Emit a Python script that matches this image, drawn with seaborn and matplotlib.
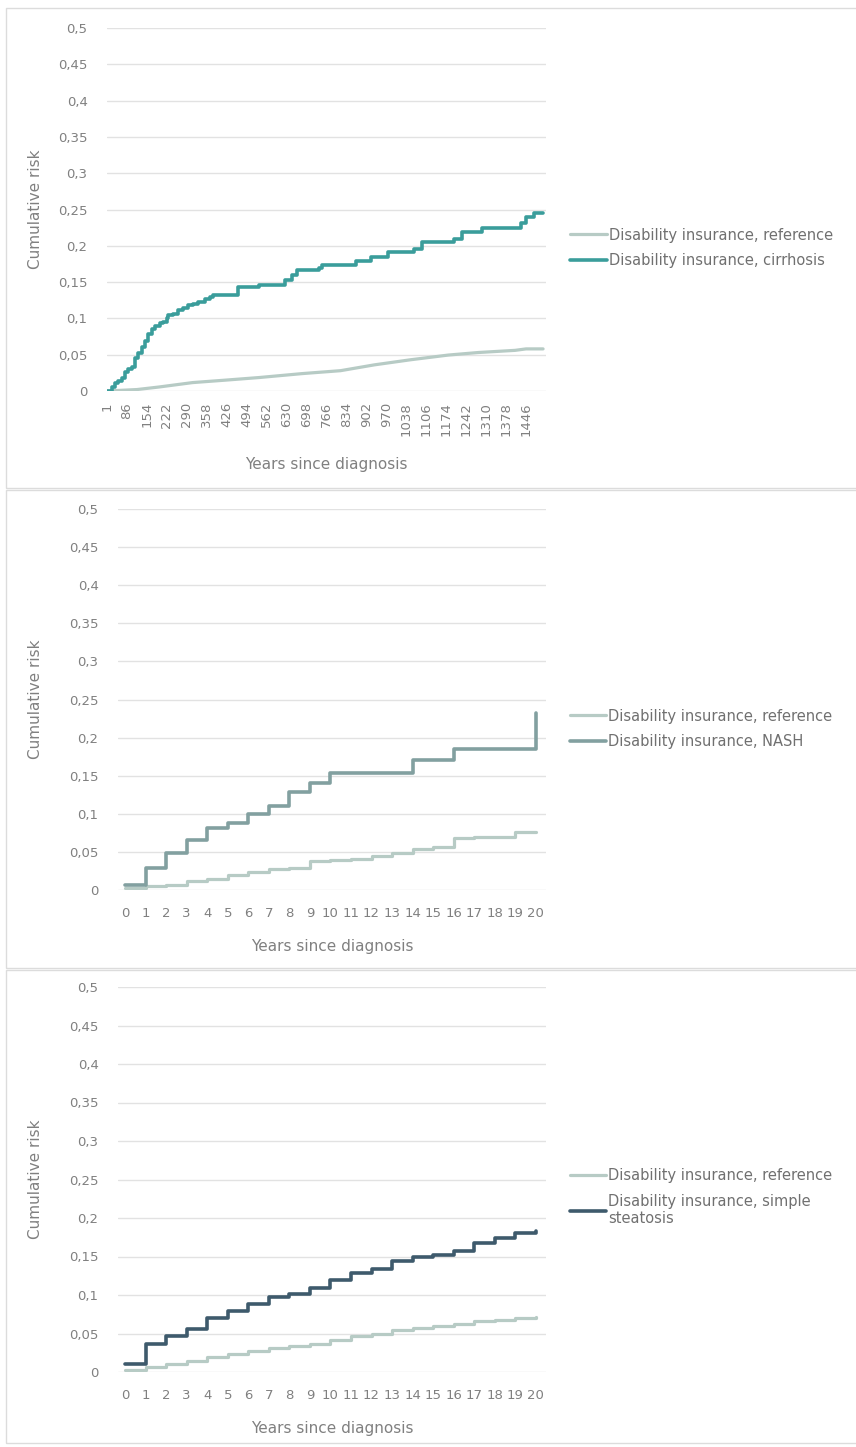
import matplotlib.pyplot as plt
import numpy as np
import pandas as pd
import seaborn as sns
from matplotlib.patches import Rectangle
from matplotlib.ticker import FixedLocator, FuncFormatter

# Panel 1: cirrhosis (x axis in days, category-style labels)
day_ticks = [1, 86, 154, 222, 290, 358, 426, 494, 562, 630, 698, 766, 834,
             902, 970, 1038, 1106, 1174, 1242, 1310, 1378, 1446]
cirr_days = [1, 21, 35, 49, 63, 78, 91, 102, 113, 125, 136, 147, 159, 170, 182,
             199, 210, 221, 227, 244, 261, 278, 295, 312, 329, 352, 369, 379,
             465, 535, 623, 650, 664, 739, 752, 868, 916, 977, 1065, 1092,
             1201, 1228, 1296, 1429, 1446, 1473, 1504]
cirr_risk = [0, 0.0056, 0.0116, 0.0139, 0.0185, 0.0255, 0.030, 0.0333, 0.046,
             0.053, 0.060, 0.069, 0.079, 0.086, 0.090, 0.0935, 0.095, 0.101,
             0.104, 0.1065, 0.111, 0.115, 0.118, 0.1195, 0.123, 0.127, 0.130,
             0.132, 0.1435, 0.146, 0.153, 0.160, 0.167, 0.170, 0.173, 0.179,
             0.184, 0.192, 0.196, 0.205, 0.210, 0.219, 0.225, 0.232, 0.240,
             0.245, 0.245]
ref1_days = [1, 120, 195, 310, 423, 535, 630, 684, 814, 929, 1052, 1181, 1283,
             1409, 1446, 1504]
ref1_risk = [0, 0.002, 0.0055, 0.0116, 0.015, 0.0185, 0.022, 0.024, 0.028,
             0.036, 0.043, 0.0495, 0.053, 0.056, 0.058, 0.058]

# Panels 2 and 3: years since diagnosis
years = list(range(21))
nash_ref = [0.003, 0.005, 0.0066, 0.012, 0.015, 0.020, 0.023, 0.028, 0.029,
            0.038, 0.039, 0.041, 0.045, 0.048, 0.054, 0.057, 0.068, 0.070,
            0.070, 0.076, 0.076]
nash = [0.006, 0.029, 0.048, 0.065, 0.082, 0.088, 0.100, 0.110, 0.129, 0.141,
        0.153, 0.153, 0.153, 0.153, 0.171, 0.171, 0.185, 0.185, 0.185, 0.185,
        0.232]
steat_ref = [0.003, 0.007, 0.010, 0.014, 0.020, 0.024, 0.027, 0.031, 0.034,
             0.037, 0.042, 0.047, 0.050, 0.054, 0.057, 0.060, 0.062, 0.066,
             0.068, 0.070, 0.071]
steat = [0.010, 0.037, 0.047, 0.056, 0.070, 0.079, 0.0885, 0.097, 0.101, 0.109,
         0.119, 0.129, 0.134, 0.144, 0.150, 0.152, 0.157, 0.168, 0.174, 0.180,
         0.183]

lbl_ref = "Disability insurance, reference"
lbl_cirr = "Disability insurance, cirrhosis"
lbl_nash = "Disability insurance, NASH"
lbl_steat = "Disability insurance, simple\nsteatosis"

c_ref = "#b7cbc5"
c_cirr = "#3a9d9b"
c_nash = "#82a0a0"
c_steat = "#3e5a6c"
txt = "#808080"


def day_pos(d):
    # category axis: labels are evenly spaced even though the first gap is 85 days
    d = np.asarray(d, dtype=float)
    return np.where(d <= 86, (d - 1) / 85, 1 + (d - 86) / 68)


sns.set_theme(style="white")
plt.rcParams["font.family"] = ["DejaVu Sans"]

W, H = 856, 1447
fig = plt.figure(figsize=(W / 100, H / 100), dpi=100)


def px_axes(left, right, top, bottom):
    return fig.add_axes([left / W, 1 - bottom / H, (right - left) / W, (bottom - top) / H])


def style(ax):
    ax.set_ylim(0, 0.5)
    ax.yaxis.set_major_locator(FixedLocator(np.arange(0, 0.501, 0.05)))
    ax.yaxis.set_major_formatter(FuncFormatter(lambda v, _: ("%g" % round(v, 2)).replace(".", ",")))
    ax.grid(axis="y", color="#e2e2e2", lw=1)
    ax.grid(axis="x", visible=False)
    for s in ax.spines.values():
        s.set_visible(False)
    ax.tick_params(axis="y", length=0, pad=14, labelsize=9.5, labelcolor=txt)
    ax.tick_params(axis="x", length=0, labelsize=9.5, labelcolor=txt)
    ax.set_ylabel("Cumulative risk", fontsize=11, color=txt)
    ax.set_xlabel("Years since diagnosis", fontsize=11, color=txt)


def legend(ax, ycen):
    leg = ax.legend(loc="center left", bbox_to_anchor=(1.055, ycen), frameon=False,
                    fontsize=10.5, handlelength=2.5, handletextpad=0.15,
                    labelspacing=0.75, borderpad=0, borderaxespad=0)
    for t in leg.get_texts():
        t.set_color("#707070")


# panel boxes
for top, bot in [(8, 488), (490, 968), (970, 1443)]:
    fig.add_artist(Rectangle((6 / W, 1 - bot / H), 1, (bot - top) / H,
                             transform=fig.transFigure, fill=False,
                             edgecolor="#dcdcdc", lw=1))

# ---- panel 1
ax1 = px_axes(107, 546, 28, 391)
df_ref1 = pd.DataFrame({"x": day_pos(ref1_days), "y": ref1_risk})
df_cirr = pd.DataFrame({"x": day_pos(cirr_days), "y": cirr_risk})
sns.lineplot(data=df_ref1, x="x", y="y", ax=ax1, color=c_ref, lw=2.3, label=lbl_ref)
sns.lineplot(data=df_cirr, x="x", y="y", ax=ax1, color=c_cirr, lw=2.6,
             drawstyle="steps-post", label=lbl_cirr)
style(ax1)
ax1.set_xlim(0, 22.0)
ax1.set_xticks(day_pos(day_ticks))
ax1.set_xticklabels([str(d) for d in day_ticks], rotation=90)
ax1.tick_params(axis="x", pad=8)
ax1.yaxis.set_label_coords((43 - 107) / 439, 0.5)
ax1.xaxis.set_label_coords(0.5, -(457 - 391) / 363)
legend(ax1, (391 - 248) / 363)

# ---- panel 2
ax2 = px_axes(118, 546, 509, 890)
df2 = pd.DataFrame({"x": years, "ref": nash_ref, "nash": nash})
sns.lineplot(data=df2, x="x", y="ref", ax=ax2, color=c_ref, lw=2.3,
             drawstyle="steps-post", label=lbl_ref)
sns.lineplot(data=df2, x="x", y="nash", ax=ax2, color=c_nash, lw=2.6,
             drawstyle="steps-post", label=lbl_nash)
style(ax2)
ax2.set_xlim(-0.34, 20.49)
ax2.set_xticks(years)
ax2.tick_params(axis="x", pad=12)
ax2.yaxis.set_label_coords((43 - 118) / 428, 0.5)
ax2.xaxis.set_label_coords(0.5, -(939 - 890) / 381)
legend(ax2, (890 - 729) / 381)

# ---- panel 3
ax3 = px_axes(118, 546, 987, 1372)
df3 = pd.DataFrame({"x": years, "ref": steat_ref, "steat": steat})
sns.lineplot(data=df3, x="x", y="ref", ax=ax3, color=c_ref, lw=2.3,
             drawstyle="steps-post", label=lbl_ref)
sns.lineplot(data=df3, x="x", y="steat", ax=ax3, color=c_steat, lw=2.6,
             drawstyle="steps-post", label=lbl_steat)
style(ax3)
ax3.set_xlim(-0.34, 20.49)
ax3.set_xticks(years)
ax3.tick_params(axis="x", pad=12)
ax3.yaxis.set_label_coords((43 - 118) / 428, 0.5)
ax3.xaxis.set_label_coords(0.5, -(1421 - 1372) / 385)
legend(ax3, (1372 - 1197) / 385)

fig.savefig("out.png", dpi=100)
